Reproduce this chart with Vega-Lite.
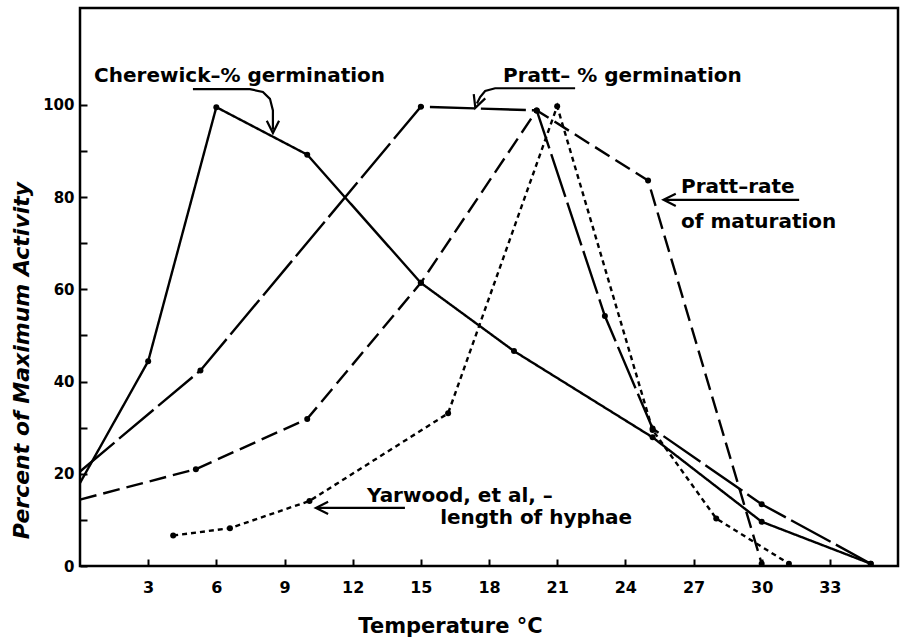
{
  "$schema": "https://vega.github.io/schema/vega-lite/v6.json",
  "width": 818,
  "height": 558,
  "autosize": {"type": "none"},
  "padding": {"left": 80, "top": 8, "right": 2, "bottom": 73},
  "background": "white",
  "config": {
    "view": {"stroke": "black", "strokeWidth": 2.5},
    "font": "DejaVu Sans"
  },
  "datasets": {
    "curves": [
      {"series": "Cherewick", "T": 0, "V": 18},
      {"series": "Cherewick", "T": 3, "V": 44.4},
      {"series": "Cherewick", "T": 6, "V": 99.5},
      {"series": "Cherewick", "T": 10, "V": 89.2},
      {"series": "Cherewick", "T": 15, "V": 61.4},
      {"series": "Cherewick", "T": 19.1, "V": 46.6},
      {"series": "Cherewick", "T": 25.2, "V": 27.9},
      {"series": "Cherewick", "T": 30, "V": 9.6},
      {"series": "Cherewick", "T": 34.8, "V": 0.5},
      {"series": "PrattGerm", "T": 0, "V": 20.5},
      {"series": "PrattGerm", "T": 5.3, "V": 42.4},
      {"series": "PrattGerm", "T": 15, "V": 99.6},
      {"series": "PrattGerm", "T": 20.1, "V": 98.8},
      {"series": "PrattGerm", "T": 23.1, "V": 54.2},
      {"series": "PrattGerm", "T": 25.2, "V": 29.8},
      {"series": "PrattGerm", "T": 30, "V": 13.4},
      {"series": "PrattGerm", "T": 34.8, "V": 0.5},
      {"series": "PrattRate", "T": 0, "V": 14.4},
      {"series": "PrattRate", "T": 5.1, "V": 21},
      {"series": "PrattRate", "T": 10, "V": 31.9},
      {"series": "PrattRate", "T": 15, "V": 61.4},
      {"series": "PrattRate", "T": 20.1, "V": 98.8},
      {"series": "PrattRate", "T": 25, "V": 83.6},
      {"series": "PrattRate", "T": 30, "V": 0.5},
      {"series": "Yarwood", "T": 4.1, "V": 6.6},
      {"series": "Yarwood", "T": 6.6, "V": 8.2},
      {"series": "Yarwood", "T": 10.1, "V": 14.1},
      {"series": "Yarwood", "T": 16.2, "V": 33.1},
      {"series": "Yarwood", "T": 21, "V": 99.7},
      {"series": "Yarwood", "T": 25.2, "V": 29.5},
      {"series": "Yarwood", "T": 28, "V": 10.3},
      {"series": "Yarwood", "T": 31.2, "V": 0.5}
    ],
    "arrows": [
      {"id": "a1", "k": 1, "T": 4.97, "V": 103.4},
      {"id": "a1", "k": 2, "T": 7.48, "V": 103.4},
      {"id": "a1", "k": 3, "T": 8.05, "V": 102.8},
      {"id": "a1", "k": 4, "T": 8.36, "V": 101.3},
      {"id": "a1", "k": 5, "T": 8.49, "V": 98.8},
      {"id": "a1", "k": 6, "T": 8.49, "V": 94.6},
      {"id": "a2", "k": 1, "T": 21.79, "V": 103.6},
      {"id": "a2", "k": 2, "T": 18.27, "V": 103.6},
      {"id": "a2", "k": 3, "T": 17.83, "V": 103.0},
      {"id": "a2", "k": 4, "T": 17.61, "V": 101.7},
      {"id": "a2", "k": 5, "T": 17.47, "V": 100.3},
      {"id": "a3", "k": 1, "T": 31.65, "V": 79.4},
      {"id": "a3", "k": 2, "T": 25.75, "V": 79.4},
      {"id": "a4", "k": 1, "T": 14.3, "V": 12.6},
      {"id": "a4", "k": 2, "T": 10.45, "V": 12.6}
    ],
    "heads": [
      {"id": "a1", "T": 8.49, "V": 95.2},
      {"id": "a2", "T": 17.49, "V": 100.6},
      {"id": "a3", "T": 25.95, "V": 79.4},
      {"id": "a4", "T": 10.65, "V": 12.6}
    ],
    "labels": [
      {"text": "Cherewick–% germination", "T": 0.62, "V": 104.9},
      {"text": "Pratt– % germination", "T": 18.62, "V": 104.9},
      {"text": "Pratt–rate", "T": 26.45, "V": 80.9},
      {"text": "of maturation", "T": 26.45, "V": 73.4},
      {"text": "Yarwood, et al, –", "T": 12.63, "V": 13.9},
      {"text": "length of hyphae", "T": 15.85, "V": 9.1}
    ]
  },
  "encoding": {
    "x": {
      "field": "T", "type": "quantitative",
      "scale": {"domain": [0, 36], "nice": false, "zero": false},
      "axis": {
        "values": [3, 6, 9, 12, 15, 18, 21, 24, 27, 30, 33],
        "domain": false, "grid": false,
        "tickSize": -7, "tickWidth": 2, "tickColor": "black",
        "labelFont": "DejaVu Sans", "labelFontWeight": "bold", "labelFontSize": 16, "labelColor": "black",
        "labelPadding": 20,
        "title": "Temperature °C",
        "titleFont": "DejaVu Sans", "titleFontWeight": "bold", "titleFontSize": 21, "titleColor": "black",
        "titleX": 370, "titleY": 66, "titleBaseline": "alphabetic", "titleAlign": "center"
      }
    },
    "y": {
      "field": "V", "type": "quantitative",
      "scale": {"domain": [0, 121], "nice": false},
      "axis": {
        "values": [0, 10, 20, 30, 40, 50, 60, 70, 80, 90, 100],
        "labelExpr": "datum.value % 20 == 0 ? datum.label : ''",
        "domain": false, "grid": false,
        "tickSize": -7, "tickWidth": 2, "tickColor": "black",
        "labelFont": "DejaVu Sans", "labelFontWeight": "bold", "labelFontSize": 15, "labelColor": "black",
        "labelPadding": 13,
        "title": "Percent of Maximum Activity",
        "titleFont": "DejaVu Sans", "titleFontWeight": "bold", "titleFontStyle": "italic", "titleFontSize": 22, "titleColor": "black",
        "titleX": -47, "titleY": 352, "titleAlign": "center", "titleBaseline": "bottom", "titleAngle": -90
      }
    }
  },
  "layer": [
    {
      "data": {"name": "curves"},
      "mark": {"type": "line", "color": "black", "strokeWidth": 2.4},
      "encoding": {
        "strokeDash": {
          "field": "series", "type": "nominal",
          "scale": {"domain": ["Cherewick", "PrattGerm", "PrattRate", "Yarwood"], "range": [[1, 0], [45, 6], [17, 7], [5, 4]]},
          "legend": null
        }
      }
    },
    {
      "data": {"name": "curves"},
      "transform": [{"filter": "datum.T > 0"}],
      "mark": {"type": "point", "filled": true, "color": "black", "size": 36, "opacity": 1}
    },
    {
      "data": {"name": "arrows"},
      "mark": {"type": "line", "color": "black", "strokeWidth": 2.2},
      "encoding": {
        "detail": {"field": "id", "type": "nominal"},
        "order": {"field": "k", "type": "quantitative"}
      }
    },
    {
      "data": {"name": "heads"},
      "transform": [{"filter": "datum.id == 'a3' || datum.id == 'a4'"}],
      "mark": {"type": "point", "shape": "M1,-1L-1,0L1,1", "filled": false, "color": "black", "strokeWidth": 2.2, "size": 150, "opacity": 1, "angle": 0}
    },
    {
      "data": {"name": "heads"},
      "transform": [{"filter": "datum.id == 'a1'"}],
      "mark": {"type": "point", "shape": "M1,-1L-1,0L1,1", "filled": false, "color": "black", "strokeWidth": 2.2, "size": 150, "opacity": 1, "angle": 270}
    },
    {
      "data": {"name": "heads"},
      "transform": [{"filter": "datum.id == 'a2'"}],
      "mark": {"type": "point", "shape": "M1,-1L-1,0L1,1", "filled": false, "color": "black", "strokeWidth": 2.2, "size": 150, "opacity": 1, "angle": 290}
    },
    {
      "data": {"name": "labels"},
      "mark": {"type": "text", "align": "left", "baseline": "alphabetic", "font": "DejaVu Sans", "fontWeight": "bold", "fontSize": 20, "color": "black"},
      "encoding": {"text": {"field": "text", "type": "nominal"}}
    }
  ]
}
